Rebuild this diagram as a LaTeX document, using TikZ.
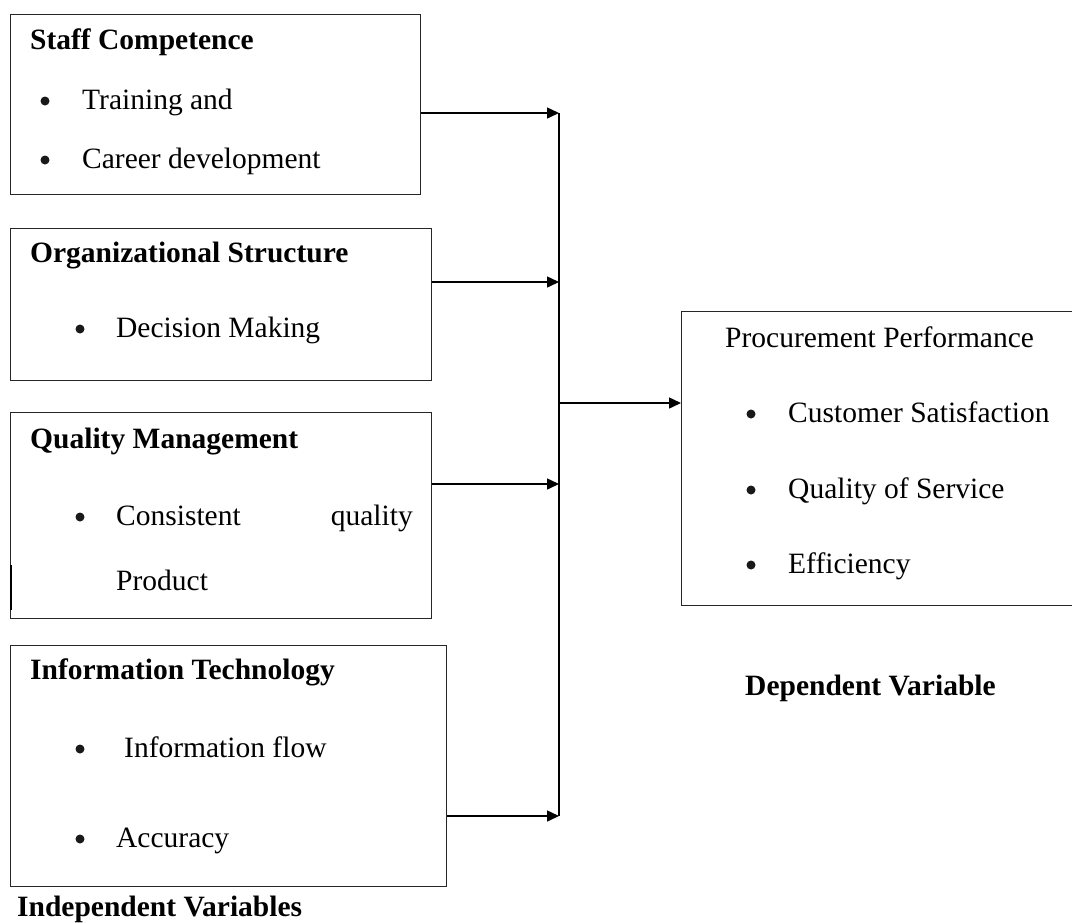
\documentclass[tikz,border=0pt]{standalone}
\usepackage{fontspec}
\setmainfont{Liberation Serif}
\usetikzlibrary{arrows.meta}
\begin{document}
\begin{tikzpicture}[x=1pt,y=-1pt,
  every node/.style={font=\fontsize{29.5}{35}\selectfont, inner sep=0pt},
  varbox/.style={draw=black!85, line width=1.4pt, anchor=north west, minimum width=#1, inner sep=0pt},
  head/.style={anchor=base west, font=\fontsize{29.5}{35}\selectfont\bfseries},
  item/.style={anchor=base west},
  dot/.style={circle, fill=black!90, minimum size=9pt, inner sep=0pt},
  link/.style={line width=1.5pt, -{Triangle[length=12pt,width=11pt]}},
  rail/.style={line width=1.5pt}]
\useasboundingbox (0,0) rectangle (1072,922);
\clip (0,0) rectangle (1072,922);

% independent variable boxes
\node[varbox=410pt, minimum height=180pt] (b1) at (10,14) {};
\node[varbox=421pt, minimum height=152pt] (b2) at (10,228) {};
\node[varbox=421pt, minimum height=206pt] (b3) at (10,412) {};
\node[varbox=436pt, minimum height=241pt] (b4) at (10,645) {};
\draw[line width=2.8pt] (11,565) -- (11,610);

% dependent variable box (runs off the right edge)
\node[varbox=420pt, minimum height=294pt] (rb) at (681,311) {};

% box texts (bullets sit about 8pt above the baseline)
\node[head] (t1) at (30,49) {Staff Competence};
\node[dot] (d11) at (45,101) {};
\node[item] (t11) at (82,109) {Training and};
\node[dot] (d12) at (45,160) {};
\node[item] (t12) at (82,168) {Career development};

\node[head] (t2) at (30,262) {Organizational Structure};
\node[dot] (d21) at (80,329) {};
\node[item] (t21) at (116,337) {Decision Making};

\node[head] (t3) at (30,448) {Quality Management};
\node[dot] (d31) at (80,517) {};
\node[item] (t31) at (116,525) {Consistent};
\node[anchor=base east] (t31b) at (413,525) {quality};
\node[item] (t32) at (116,590) {Product};

\node[head] (t4) at (30,679) {Information Technology};
\node[dot] (d41) at (80,749) {};
\node[item] (t41) at (124,757) {Information flow};
\node[dot] (d42) at (80,839) {};
\node[item] (t42) at (116,847) {Accuracy};

\node[head] (iv) at (17,916) {Independent Variables};

\node[item] (rt) at (725,347) {Procurement Performance};
\node[dot] (rd1) at (751,414) {};
\node[item] (r1) at (788,422) {Customer Satisfaction};
\node[dot] (rd2) at (751,490) {};
\node[item] (r2) at (788,498) {Quality of Service};
\node[dot] (rd3) at (751,565) {};
\node[item] (r3) at (788,573) {Efficiency};

\node[head] (dv) at (745,695) {Dependent Variable};

% connectors
\coordinate (j1) at (559,113);
\coordinate (j2) at (559,282);
\coordinate (j3) at (559,484);
\coordinate (j4) at (559,816);
\coordinate (jo) at (559,403);
\draw[rail] (j1) -- (j4);
\draw[link] (b1.east |- j1) -- (j1);
\draw[link] (b2.east |- j2) -- (j2);
\draw[link] (b3.east |- j3) -- (j3);
\draw[link] (b4.east |- j4) -- (j4);
\draw[link] (jo) -- (rb.west |- jo);
\end{tikzpicture}
\end{document}
